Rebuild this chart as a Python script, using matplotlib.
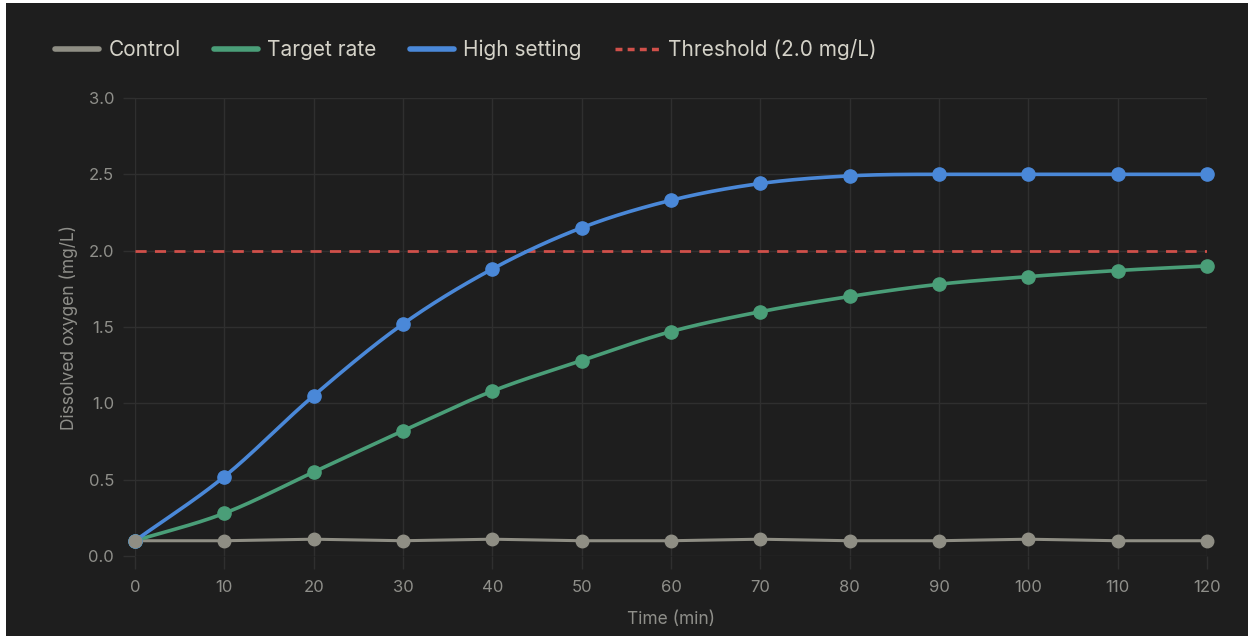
import numpy as np
import matplotlib
matplotlib.use("Agg")
import matplotlib.pyplot as plt
from matplotlib.lines import Line2D
from matplotlib.patches import Rectangle

plt.rcParams['font.family'] = ['Inter', 'DejaVu Sans']

time_min = [0, 10, 20, 30, 40, 50, 60, 70, 80, 90, 100, 110, 120]
control = [0.10, 0.10, 0.11, 0.10, 0.11, 0.10, 0.10, 0.11, 0.10, 0.10, 0.11, 0.10, 0.10]
target_rate = [0.10, 0.28, 0.55, 0.82, 1.08, 1.28, 1.47, 1.60, 1.70, 1.78, 1.83, 1.87, 1.90]
high_setting = [0.10, 0.52, 1.05, 1.52, 1.88, 2.15, 2.33, 2.44, 2.49, 2.50, 2.50, 2.50, 2.50]
threshold = 2.0
y_ticks = [0.0, 0.5, 1.0, 1.5, 2.0, 2.5, 3.0]

BG = '#1e1e1e'
GRID = '#2f2f2f'
TICK = '#8f8f8a'
LEG_TXT = '#d4d2c8'
C_CONTROL = '#8f8e84'
C_TARGET = '#4a9e78'
C_HIGH = '#4a88d8'
C_THR = '#d0504a'


def monotone(x, y, n=40):
    x = np.asarray(x, float); y = np.asarray(y, float)
    h = np.diff(x); d = np.diff(y) / h
    m = np.zeros_like(y)
    m[0] = d[0]; m[-1] = d[-1]
    for i in range(1, len(y) - 1):
        if d[i - 1] * d[i] <= 0:
            m[i] = 0
        else:
            m[i] = (d[i - 1] + d[i]) / 2
    for i in range(len(d)):
        if d[i] == 0:
            m[i] = m[i + 1] = 0
        else:
            a = m[i] / d[i]; b = m[i + 1] / d[i]
            s = a * a + b * b
            if s > 9:
                t = 3 / np.sqrt(s)
                m[i] = t * a * d[i]; m[i + 1] = t * b * d[i]
    xs, ys = [], []
    for i in range(len(d)):
        t = np.linspace(0, 1, n, endpoint=(i == len(d) - 1))
        h00 = 2 * t**3 - 3 * t**2 + 1
        h10 = t**3 - 2 * t**2 + t
        h01 = -2 * t**3 + 3 * t**2
        h11 = t**3 - t**2
        xs.append(x[i] + t * h[i])
        ys.append(h00 * y[i] + h10 * h[i] * m[i] + h01 * y[i + 1] + h11 * h[i] * m[i + 1])
    return np.concatenate(xs), np.concatenate(ys)


fig = plt.figure(figsize=(12.48, 6.36), dpi=100, facecolor='white')
fig.patches.append(Rectangle((6 / 1248, 0), 1, 1 - 3 / 636, transform=fig.transFigure,
                             facecolor=BG, edgecolor='none', zorder=-10))

ax = fig.add_axes([135 / 1248, 1 - 556 / 636, 1072 / 1248, 458 / 636])
ax.set_facecolor(BG)
ax.set_xlim(0, 120)
ax.set_ylim(0, 3.0)
ax.set_xticks(time_min)
ax.set_yticks(y_ticks)
ax.set_yticklabels([f'{v:.1f}' for v in y_ticks])
ax.grid(True, color=GRID, linewidth=1)
ax.set_axisbelow(True)
for s in ax.spines.values():
    s.set_visible(False)
ax.tick_params(axis='both', colors=GRID, length=9, width=1, labelcolor=TICK, labelsize=12)
ax.tick_params(axis='x', pad=8)
ax.tick_params(axis='y', pad=6)

ax.set_xlabel('Time (min)', color=TICK, fontsize=12.5, labelpad=12)
ax.set_ylabel('Dissolved oxygen (mg/L)', color=TICK, fontsize=12.5)
ax.yaxis.set_label_coords(-(135 - 78) / 1072, 0.5)

# threshold
ax.plot([time_min[0], time_min[-1]], [threshold, threshold], color=C_THR, lw=2,
        dashes=(4, 3), zorder=2)

# control straight
ax.plot(time_min, control, color=C_CONTROL, lw=2.2, zorder=3, clip_on=False)
ax.plot(time_min, control, 'o', color=C_CONTROL, ms=9, zorder=4, clip_on=False)

for ys, c in [(target_rate, C_TARGET), (high_setting, C_HIGH)]:
    sx, sy = monotone(time_min, ys)
    ax.plot(sx, sy, color=c, lw=2.6, zorder=3, clip_on=False)
    ax.plot(time_min, ys, 'o', color=c, ms=9.5, zorder=4, clip_on=False)

# redraw first control marker on top (as in reference)
ax.plot(time_min[:1], control[:1], 'o', color=C_CONTROL, ms=9, zorder=5, clip_on=False)

handles = [
    Line2D([], [], color=C_CONTROL, lw=4, solid_capstyle='round'),
    Line2D([], [], color=C_TARGET, lw=4, solid_capstyle='round'),
    Line2D([], [], color=C_HIGH, lw=4, solid_capstyle='round'),
    Line2D([], [], color=C_THR, lw=2.5, dashes=(2, 1.5)),
]
labels = ['Control', 'Target rate', 'High setting', 'Threshold (2.0 mg/L)']
leg = fig.legend(handles, labels, loc='center left', bbox_to_anchor=(47 / 1248, 1 - 50 / 636),
                 ncol=4, frameon=False, fontsize=15, handlelength=2.1, handletextpad=0.45,
                 columnspacing=1.6, borderaxespad=0)
for t in leg.get_texts():
    t.set_color(LEG_TXT)

fig.savefig('out.png', dpi=100, facecolor=fig.get_facecolor())
